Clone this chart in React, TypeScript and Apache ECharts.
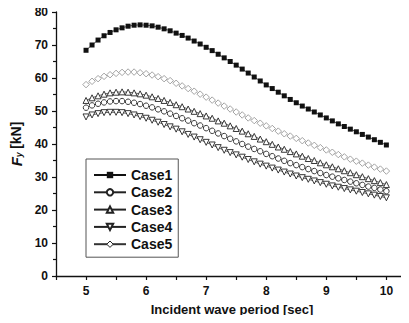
import React, { useEffect, useRef } from "react";
import * as echarts from "echarts";

const periods = [
  5.0, 5.1, 5.2, 5.3, 5.4, 5.5, 5.6, 5.7, 5.8, 5.9,
  6.0, 6.1, 6.2, 6.3, 6.4, 6.5, 6.6, 6.7, 6.8, 6.9,
  7.0, 7.1, 7.2, 7.3, 7.4, 7.5, 7.6, 7.7, 7.8, 7.9,
  8.0, 8.1, 8.2, 8.3, 8.4, 8.5, 8.6, 8.7, 8.8, 8.9,
  9.0, 9.1, 9.2, 9.3, 9.4, 9.5, 9.6, 9.7, 9.8, 9.9,
  10.0,
];

const case1 = [
  68.4, 70.0, 71.5, 72.8, 73.8, 74.6, 75.2, 75.7, 76.0, 76.1,
  76.0, 75.8, 75.4, 74.9, 74.3, 73.6, 72.9, 72.1, 71.2, 70.3,
  69.3, 68.3, 67.2, 66.1, 65.0, 63.9, 62.7, 61.5, 60.3, 59.1,
  57.9, 56.8, 55.7, 54.6, 53.5, 52.5, 51.5, 50.6, 49.7, 48.8,
  47.9, 47.0, 46.1, 45.3, 44.5, 43.7, 42.9, 42.1, 41.3, 40.5,
  39.7,
];

const case2 = [
  51.0, 51.7, 52.2, 52.6, 52.9, 53.0, 53.0, 52.8, 52.5, 52.1,
  51.6, 51.1, 50.5, 49.9, 49.2, 48.5, 47.8, 47.1, 46.3, 45.6,
  44.8, 44.0, 43.2, 42.4, 41.6, 40.8, 40.0, 39.2, 38.5, 37.8,
  37.0, 36.3, 35.6, 34.9, 34.2, 33.6, 33.0, 32.4, 31.8, 31.2,
  30.6, 30.1, 29.6, 29.1, 28.6, 28.1, 27.6, 27.1, 26.7, 26.2,
  25.7,
];

const case3 = [
  53.2, 54.0, 54.6, 55.1, 55.5, 55.7, 55.8, 55.7, 55.5, 55.2,
  54.8, 54.3, 53.8, 53.2, 52.6, 51.9, 51.3, 50.6, 49.9, 49.2,
  48.5, 47.8, 47.0, 46.3, 45.5, 44.7, 43.9, 43.1, 42.3, 41.5,
  40.7, 39.9, 39.1, 38.4, 37.7, 37.0, 36.3, 35.6, 35.0, 34.3,
  33.7, 33.1, 32.5, 31.9, 31.3, 30.7, 30.1, 29.5, 28.9, 28.3,
  27.7,
];

const case4 = [
  48.2, 48.8, 49.2, 49.5, 49.6, 49.6, 49.5, 49.2, 48.8, 48.3,
  47.8, 47.2, 46.6, 45.9, 45.2, 44.5, 43.7, 42.9, 42.1, 41.3,
  40.5, 39.7, 38.9, 38.1, 37.4, 36.7, 36.0, 35.3, 34.6, 33.9,
  33.3, 32.7, 32.1, 31.5, 30.9, 30.3, 29.8, 29.3, 28.8, 28.3,
  27.8, 27.3, 26.9, 26.5, 26.1, 25.7, 25.3, 24.9, 24.5, 24.1,
  23.7,
];

const case5 = [
  58.0, 59.0, 59.8, 60.5, 61.0, 61.4, 61.7, 61.8, 61.8, 61.6,
  61.3, 60.9, 60.4, 59.8, 59.2, 58.4, 57.6, 56.8, 56.0, 55.1,
  54.2, 53.3, 52.4, 51.5, 50.6, 49.7, 48.8, 47.9, 47.1, 46.3,
  45.5, 44.7, 43.9, 43.1, 42.4, 41.7, 41.0, 40.3, 39.6, 38.9,
  38.2, 37.5, 36.8, 36.1, 35.4, 34.8, 34.2, 33.6, 33.0, 32.4,
  31.8,
];

const seriesNames = ["Case1", "Case2", "Case3", "Case4", "Case5"];
const xTickLabels = [5, 6, 7, 8, 9, 10];
const yTickLabels = [0, 10, 20, 30, 40, 50, 60, 70, 80];

const FONT = "Liberation Sans";

function pairs(vals: number[]) {
  return periods.map((p, i) => [p, vals[i]]);
}

export default function App() {
  const ref = useRef<HTMLDivElement>(null);
  useEffect(() => {
    if (!ref.current) return;
    const chart = echarts.init(ref.current, undefined, { renderer: "svg" });
    const hollow = { color: "#fff", borderColor: "#222", borderWidth: 0.9 };
    const mk = (
      name: string,
      vals: number[],
      symbol: string,
      size: number,
      itemStyle: any,
      lineColor: string,
      rotate = 0
    ) => ({
      name,
      type: "line",
      data: pairs(vals),
      symbol,
      symbolSize: size,
      symbolRotate: rotate,
      showAllSymbol: true,
      itemStyle,
      lineStyle: { color: lineColor, width: 0.7 },
      emphasis: { disabled: true },
      z: 2,
    });
    chart.setOption({
      animation: false,
      backgroundColor: "#fff",
      textStyle: { fontFamily: FONT },
      grid: { left: 56, right: 1, top: 12, bottom: 47, containLabel: false },
      legend: {
        left: 86,
        top: 159,
        orient: "vertical",
        data: seriesNames.map((n, i) =>
          i === 4
            ? { name: n, itemStyle: { color: "#fff", borderColor: "#222", borderWidth: 1 }, lineStyle: { color: "#333" } }
            : { name: n }
        ),
        itemWidth: 32,
        itemHeight: 8,
        itemGap: 3.3,
        padding: [9, 6, 6, 7],
        borderColor: "#555",
        borderWidth: 1,
        borderRadius: 0,
        backgroundColor: "#fff",
        textStyle: { fontFamily: FONT, fontSize: 14, fontWeight: "bold", color: "#111", lineHeight: 14 },
      },
      xAxis: {
        type: "value",
        min: 4.5,
        max: 10.36,
        interval: 0.5,
        name: "Incident wave period [sec]",
        nameLocation: "middle",
        nameGap: 27,
        nameTextStyle: { fontFamily: FONT, fontSize: 13, fontWeight: "bold", color: "#111" },
        axisLine: { lineStyle: { color: "#111", width: 1.3 } },
        axisTick: { show: true, length: 4, inside: false, lineStyle: { color: "#111", width: 1.2 } },
        axisLabel: {
          fontFamily: FONT,
          fontSize: 12,
          fontWeight: "bold",
          color: "#111",
          margin: 9,
          showMaxLabel: false,
          formatter: (v: number) => {
            const r = Math.round(v);
            return Math.abs(v - r) < 1e-6 && xTickLabels.includes(r) ? String(r) : "";
          },
        },
        splitLine: { show: false },
      },
      yAxis: {
        type: "value",
        min: 0,
        max: 80,
        interval: 10,
        name: "{f|F}{s|y} {n|[kN]}",
        nameLocation: "middle",
        nameGap: 25,
        nameTextStyle: {
          rich: {
            f: { fontFamily: FONT, fontSize: 15, fontWeight: "bold", fontStyle: "italic", color: "#111" },
            s: { fontFamily: FONT, fontSize: 9, fontWeight: "bold", fontStyle: "italic", color: "#111", verticalAlign: "bottom", padding: [6, 0, 0, 0] },
            n: { fontFamily: FONT, fontSize: 14, fontWeight: "bold", color: "#111" },
          },
        },
        axisLine: { show: true, lineStyle: { color: "#111", width: 1.3 } },
        axisTick: { show: true, length: 4, inside: false, lineStyle: { color: "#111", width: 1.2 } },
        minorTick: { show: true, splitNumber: 2, length: 3, lineStyle: { color: "#111", width: 1.2 } },
        axisLabel: {
          fontFamily: FONT,
          fontSize: 12,
          fontWeight: "bold",
          color: "#111",
          margin: 8,
          formatter: (v: number) => (yTickLabels.includes(v) ? String(v) : ""),
        },
        splitLine: { show: false },
      },
      series: [
        mk("Case1", case1, "rect", 5, { color: "#111" }, "#111"),
        mk("Case2", case2, "circle", 5.5, hollow, "#222"),
        mk("Case3", case3, "triangle", 6, hollow, "#222"),
        mk("Case4", case4, "triangle", 6, hollow, "#222", 180),
        mk("Case5", case5, "diamond", 6.5, { color: "#fff", borderColor: "#999", borderWidth: 0.9 }, "#bbb"),
      ],
    });
    return () => chart.dispose();
  }, []);
  return <div ref={ref} style={{ width: 409, height: 323, margin: -8 }} />;
}
